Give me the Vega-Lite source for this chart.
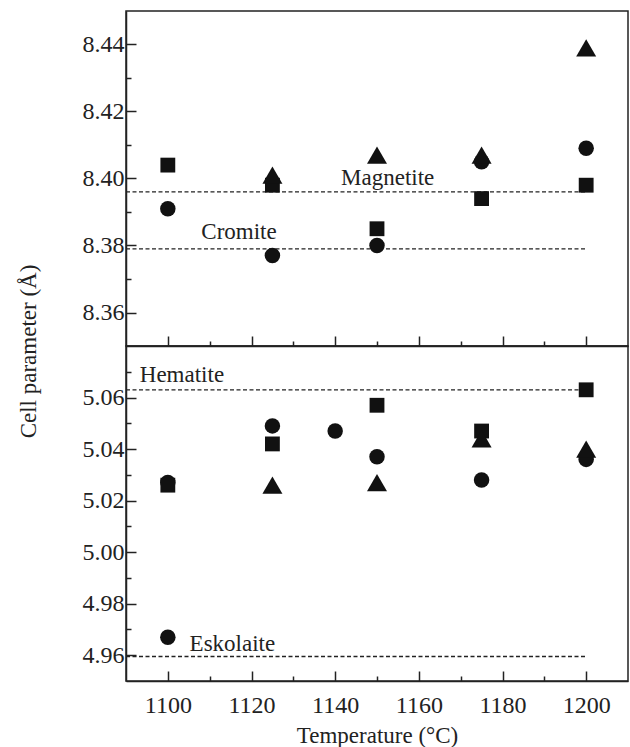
{
  "$schema": "https://vega.github.io/schema/vega-lite/v6.json",
  "background": "white",
  "padding": {"left": 16, "top": 10, "right": 1, "bottom": 0},
  "spacing": 0,
  "bounds": "flush",
  "config": {
    "font": "Liberation Serif",
    "view": {"stroke": "#222", "strokeWidth": 1.5},
    "axis": {
      "grid": false,
      "domainColor": "#222",
      "domainWidth": 1.5,
      "tickColor": "#222",
      "tickWidth": 1.5,
      "labelFont": "Liberation Serif",
      "labelFontSize": 24,
      "labelColor": "#222",
      "labelOverlap": false,
      "labelFlush": false,
      "titleFont": "Liberation Serif",
      "titleFontSize": 23,
      "titleFontWeight": "normal",
      "titleColor": "#222"
    },
    "text": {"font": "Liberation Serif", "fontSize": 23, "color": "#222"}
  },
  "datasets": {
    "spinel": [
      {"T": 1100, "a": 8.391, "series": "A"},
      {"T": 1125, "a": 8.377, "series": "A"},
      {"T": 1150, "a": 8.380, "series": "A"},
      {"T": 1175, "a": 8.405, "series": "A"},
      {"T": 1200, "a": 8.409, "series": "A"},
      {"T": 1100, "a": 8.404, "series": "B"},
      {"T": 1125, "a": 8.398, "series": "B"},
      {"T": 1150, "a": 8.385, "series": "B"},
      {"T": 1175, "a": 8.394, "series": "B"},
      {"T": 1200, "a": 8.398, "series": "B"},
      {"T": 1125, "a": 8.401, "series": "C"},
      {"T": 1150, "a": 8.407, "series": "C"},
      {"T": 1175, "a": 8.407, "series": "C"},
      {"T": 1200, "a": 8.439, "series": "C"}
    ],
    "corundum": [
      {"T": 1100, "a": 5.027, "series": "A"},
      {"T": 1100, "a": 4.967, "series": "A"},
      {"T": 1125, "a": 5.049, "series": "A"},
      {"T": 1140, "a": 5.047, "series": "A"},
      {"T": 1150, "a": 5.037, "series": "A"},
      {"T": 1175, "a": 5.028, "series": "A"},
      {"T": 1200, "a": 5.036, "series": "A"},
      {"T": 1100, "a": 5.026, "series": "B"},
      {"T": 1125, "a": 5.042, "series": "B"},
      {"T": 1150, "a": 5.057, "series": "B"},
      {"T": 1175, "a": 5.047, "series": "B"},
      {"T": 1200, "a": 5.063, "series": "B"},
      {"T": 1125, "a": 5.026, "series": "C"},
      {"T": 1150, "a": 5.027, "series": "C"},
      {"T": 1175, "a": 5.044, "series": "C"},
      {"T": 1200, "a": 5.040, "series": "C"}
    ],
    "spinelLines": [
      {"name": "Magnetite", "a": 8.396, "T": 1090, "T2": 1200},
      {"name": "Cromite", "a": 8.379, "T": 1090, "T2": 1200}
    ],
    "spinelLabels": [
      {"name": "Magnetite", "T": 1141.4, "a": 8.398},
      {"name": "Cromite", "T": 1108.0, "a": 8.3818}
    ],
    "corundumLines": [
      {"name": "Hematite", "a": 5.063, "T": 1090, "T2": 1200},
      {"name": "Eskolaite", "a": 4.9595, "T": 1090, "T2": 1200}
    ],
    "corundumLabels": [
      {"name": "Hematite", "T": 1093.3, "a": 5.066},
      {"name": "Eskolaite", "T": 1105.2, "a": 4.9615}
    ]
  },
  "vconcat": [
    {
      "width": 502,
      "height": 335,
      "encoding": {
        "x": {
          "field": "T", "type": "quantitative",
          "scale": {"domain": [1090, 1210], "nice": false, "zero": false},
          "axis": {
            "orient": "bottom",
            "values": [1100, 1110, 1120, 1130, 1140, 1150, 1160, 1170, 1180, 1190, 1200],
            "labels": false,
            "title": null,
            "tickSize": {"condition": {"test": "datum.value % 20 === 0", "value": -10}, "value": -5}
          }
        },
        "y": {
          "field": "a", "type": "quantitative",
          "scale": {"domain": [8.35, 8.45], "nice": false, "zero": false},
          "axis": {
            "values": [8.36, 8.37, 8.38, 8.39, 8.40, 8.41, 8.42, 8.43, 8.44],
            "labelExpr": "round(datum.value * 100) % 2 === 0 ? format(datum.value, '.2f') : ''",
            "labelFont": "Liberation Serif",
            "labelPadding": 12,
            "tickSize": {"condition": {"test": "round(datum.value * 100) % 2 === 0", "value": -10}, "value": -5},
            "title": "Cell parameter (Å)",
            "titleFont": "Liberation Serif",
            "titleX": -86,
            "titleY": 340
          }
        }
      },
      "layer": [
        {
          "data": {"name": "spinelLines"},
          "mark": {"type": "rule", "color": "#222", "strokeWidth": 1.3, "strokeDash": [4, 2.5]},
          "encoding": {"x2": {"field": "T2"}}
        },
        {
          "data": {"name": "spinelLabels"},
          "mark": {"type": "text", "align": "left", "baseline": "alphabetic", "font": "Liberation Serif"},
          "encoding": {"text": {"field": "name"}}
        },
        {
          "data": {"name": "spinel"},
          "mark": {"type": "point", "filled": true, "opacity": 1, "color": "#111"},
          "encoding": {
            "shape": {"field": "series", "type": "nominal", "scale": {"domain": ["A", "B", "C"], "range": ["circle", "square", "triangle-up"]}, "legend": null},
            "size": {"field": "series", "type": "nominal", "scale": {"type": "ordinal", "domain": ["A", "B", "C"], "range": [240, 220, 400]}, "legend": null}
          }
        }
      ]
    },
    {
      "width": 502,
      "height": 335,
      "encoding": {
        "x": {
          "field": "T", "type": "quantitative",
          "scale": {"domain": [1090, 1210], "nice": false, "zero": false},
          "axis": {
            "orient": "bottom",
            "values": [1100, 1110, 1120, 1130, 1140, 1150, 1160, 1170, 1180, 1190, 1200],
            "labelExpr": "datum.value % 20 === 0 ? format(datum.value, 'd') : ''",
            "labelFont": "Liberation Serif",
            "labelPadding": 22,
            "tickSize": {"condition": {"test": "datum.value % 20 === 0", "value": -10}, "value": -5},
            "title": "Temperature (°C)",
            "titleFont": "Liberation Serif",
            "titlePadding": 2
          }
        },
        "y": {
          "field": "a", "type": "quantitative",
          "scale": {"domain": [4.95, 5.08], "nice": false, "zero": false},
          "axis": {
            "values": [4.96, 4.97, 4.98, 4.99, 5.00, 5.01, 5.02, 5.03, 5.04, 5.05, 5.06, 5.07],
            "labelExpr": "round(datum.value * 100) % 2 === 0 ? format(datum.value, '.2f') : ''",
            "labelFont": "Liberation Serif",
            "labelPadding": 12,
            "tickSize": {"condition": {"test": "round(datum.value * 100) % 2 === 0", "value": -10}, "value": -5},
            "title": null
          }
        }
      },
      "layer": [
        {
          "data": {"name": "corundumLines"},
          "mark": {"type": "rule", "color": "#222", "strokeWidth": 1.3, "strokeDash": [4, 2.5]},
          "encoding": {"x2": {"field": "T2"}}
        },
        {
          "data": {"name": "corundumLabels"},
          "mark": {"type": "text", "align": "left", "baseline": "alphabetic", "font": "Liberation Serif"},
          "encoding": {"text": {"field": "name"}}
        },
        {
          "data": {"name": "corundum"},
          "mark": {"type": "point", "filled": true, "opacity": 1, "color": "#111"},
          "encoding": {
            "shape": {"field": "series", "type": "nominal", "scale": {"domain": ["A", "B", "C"], "range": ["circle", "square", "triangle-up"]}, "legend": null},
            "size": {"field": "series", "type": "nominal", "scale": {"type": "ordinal", "domain": ["A", "B", "C"], "range": [240, 220, 400]}, "legend": null}
          }
        }
      ]
    }
  ]
}
